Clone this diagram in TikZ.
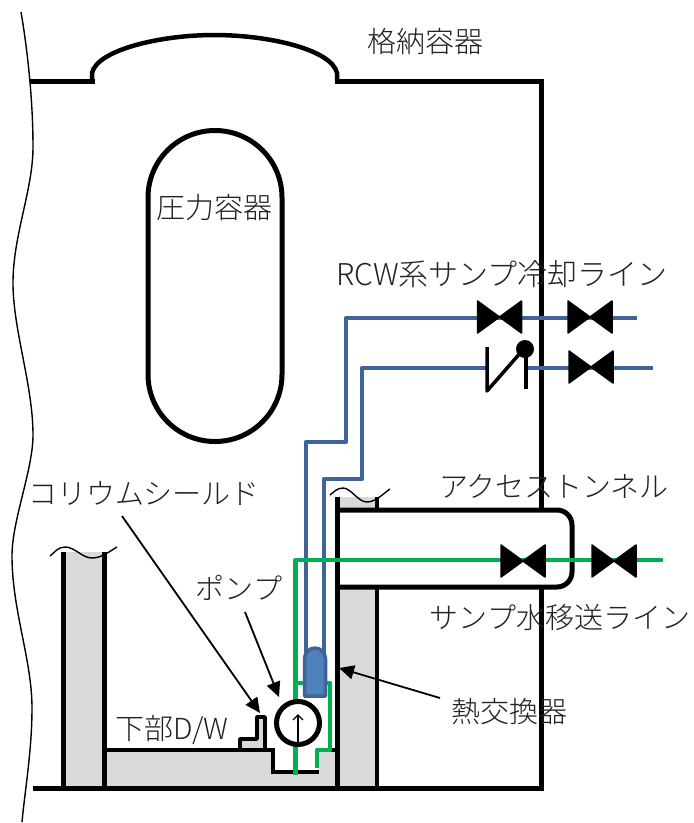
\documentclass[tikz,border=0pt]{standalone}
\usepackage{fontspec}
\newfontfamily\cjk{Noto Sans CJK JP Light}
\setmainfont{Open Sans}
\usetikzlibrary{arrows.meta}
\definecolor{bluepipe}{HTML}{3F6497}
\definecolor{greenpipe}{HTML}{00B050}
\definecolor{hxblue}{HTML}{4F81BD}
\definecolor{wallgray}{HTML}{D9D9D9}
\definecolor{txt}{HTML}{222222}
\tikzset{
  lbl/.style={font=\cjk\fontsize{29}{29}\selectfont,text=txt,inner sep=0pt,anchor=center},
  wall/.style={line width=5pt,draw=black},
  wave/.style={line width=1.4pt,draw=black},
  bpipe/.style={line width=4.7pt,draw=bluepipe,line join=round},
  gpipe/.style={line width=4.7pt,draw=greenpipe,line join=round},
  ptr/.style={line width=1.8pt,draw=black,-{Triangle[length=15pt,width=14pt]}},
  valvefill/.style={fill=black,draw=black,line width=1.5pt,line join=round}
}
\newcommand{\valvesym}[2]{\path[valvefill] (#1-22,#2-16) -- (#1+22,#2+16) -- (#1+22,#2-16) -- (#1-22,#2+16) -- cycle;}
\begin{document}
\begin{tikzpicture}[x=1pt,y=-1pt]
\useasboundingbox (0,0) rectangle (694,823);
\fill[white] (0,0) rectangle (694,823);
% grey walls
\fill[wallgray] (63,552) -- (105,552) -- (105,786) -- (63,786) -- cycle;
\fill[wallgray] (104,750) -- (273,750) -- (273,772) -- (319,772) -- (317,750) -- (337,750) -- (337,786) -- (104,786) -- cycle;
\fill[wallgray] (338,497) -- (377,497) -- (377,510) -- (338,510) -- cycle;
\fill[wallgray] (338,587) -- (377,587) -- (377,786) -- (338,786) -- cycle;
\fill[wallgray] (240,739) -- (257,739) -- (257,717) -- (265,717) -- (265,749) -- (240,749) -- cycle;
% left break
\draw[wave] (21,12) .. controls (25,35) and (33,90) .. (33,147) .. controls (33,190) and (13,235) .. (13,283) .. controls (13,330) and (33,385) .. (33,435) .. controls (33,470) and (12,520) .. (12,556) .. controls (12,610) and (32,660) .. (32,708) .. controls (32,750) and (25,790) .. (22,822);
% containment
\coordinate (cL) at (30,81);
\coordinate (dL) at (95,81);
\coordinate (dLu) at (92,81);
\coordinate (dR) at (337,81);
\coordinate (cTR) at (541.5,81);
\coordinate (cM) at (541.5,510);
\coordinate (cN) at (541.5,587);
\coordinate (cBR) at (541.5,788);
\coordinate (cBL) at (33,788);
\draw[wall] (cL) -- (dL);
\draw[wall,line width=4.5pt] (dLu) -- (92,73) .. controls (97,50) and (160,35) .. (214,35) .. controls (270,35) and (332,50) .. (337,73) -- (dR);
\draw[wall] (335,81) -- (cTR) -- (cM);
\draw[wall] (cN) -- (cBR) -- (cBL);
% pressure vessel
\node[draw=black,line width=5pt,rounded corners=67pt,minimum width=134pt,minimum height=311pt,inner sep=0pt] (rpv) at (215,286) {};
\node[lbl] (rpvl) at (214,208) {圧力容器};
% walls
\draw[wall,line width=4.5pt] (63.5,552) -- (63.5,787);
\draw[wall,line width=4.5pt] (104.5,552) -- (104.5,787);
\draw[wall,line width=4.5pt] (104,750) -- (273,750) -- (273,772) -- (319,772);
\draw[wall,line width=4.5pt] (317,750) -- (337,750);
\draw[wall] (337,497) -- (337,787);
\draw[wall,line width=4.5pt] (377,587) -- (377,787);
\draw[wall,line width=3.5pt] (377,497) -- (377,510);
\draw[wall,line width=3.5pt,line join=round] (240,749) -- (240,739) -- (257,739) -- (257,717) -- (265,717) -- (265,750);
% wave ends
\draw[wave] (50,556) .. controls (55,552) and (58,547) .. (65,547) .. controls (75,547) and (82,558) .. (92,558) .. controls (102,558) and (110,551) .. (117,547);
\draw[wave] (330,495) .. controls (334,492) and (337,488) .. (343,488) .. controls (351,488) and (358,502) .. (367,502) .. controls (376,502) and (384,493) .. (390,489);
% tunnel
\draw[wall] (338,510) -- (557,510) arc[start angle=90,end angle=0,radius=15pt] -- (572,572) arc[start angle=0,end angle=-90,radius=15pt] -- (338,587);
% pipes
\coordinate (b1s) at (637,318);
\coordinate (b2s) at (653,368);
\draw[bpipe] (b1s) -- (346,318) -- (346,442) -- (306,442) -- (306,655);
\draw[bpipe] (b2s) -- (362,368) -- (362,479) -- (324,479) -- (324,655);
\draw[gpipe] (663,560) -- (295.5,560) -- (295.5,775);
\draw[gpipe] (295.5,683) -- (330,683) -- (330,750) -- (317,750) -- (317,768);
% heat exchanger
\path[fill=hxblue,draw=bluepipe,line width=3.5pt,line join=round] (304.5,696) -- (304.5,659) arc[start angle=180,end angle=0,x radius=10.5pt,y radius=11pt] -- (325.5,696) -- cycle;
% pump
\node[draw=black,line width=5pt,circle,fill=white,minimum size=43pt,inner sep=0pt] (pump) at (298,723) {};
\draw[line width=1.3pt,-{Straight Barb[length=5pt,width=10pt]}] (298,745) -- (298,714);
% valves
\valvesym{499.5}{317}
\valvesym{590}{317}
\valvesym{591}{367}
\valvesym{523}{561}
\valvesym{614}{561}
% check valve
\path[fill=white] (488,350) -- (525,350) -- (525,390) -- (488,390) -- cycle;
\draw[line width=3.5pt,line join=round] (487,347) -- (487,391) -- (522,351);
\draw[line width=3.5pt] (526,350) -- (526,389);
\fill (525,349) circle[radius=9pt];
% labels
\node[lbl] (l1) at (425,41) {格納容器};
\node[lbl,font=\cjk\fontsize{30}{30}\selectfont] (l2) at (502,274) {RCW系サンプ冷却ライン};
\node[lbl] (l3) at (554,486) {アクセストンネル};
\node[lbl] (l4) at (560,617) {サンプ水移送ライン};
\node[lbl] (l5) at (144,494) {コリウムシールド};
\node[lbl] (l6) at (239,588) {ポンプ};
\node[lbl] (l7) at (509,712) {熱交換器};
\node[lbl] (l8) at (172,730) {下部D/W};
% pointers
\coordinate (a1) at (122,516);
\coordinate (a1e) at (260,713);
\coordinate (a2) at (245,612);
\coordinate (a2e) at (279,697);
\coordinate (a3) at (440,698);
\coordinate (a3e) at (339,668);
\draw[ptr] (a1) -- (a1e);
\draw[ptr] (a2) -- (a2e);
\draw[ptr] (a3) -- (a3e);
\end{tikzpicture}
\end{document}
